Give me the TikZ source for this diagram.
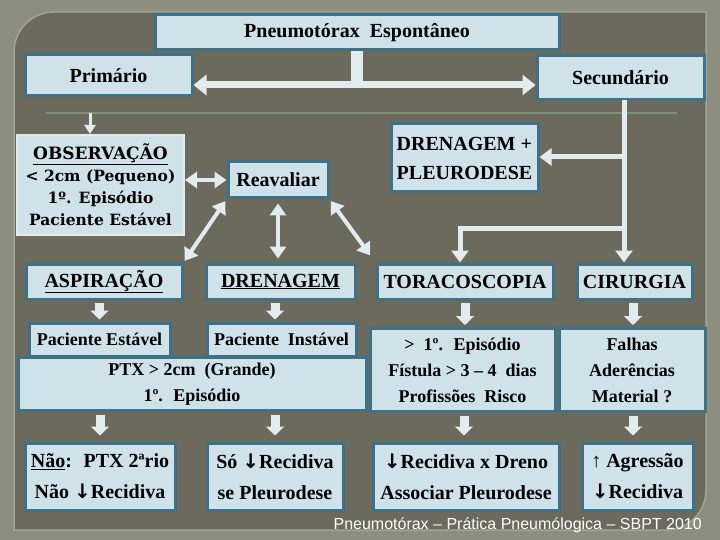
\documentclass[tikz,border=0pt]{standalone}
\usepackage{fontspec}
\setmainfont{Liberation Serif}
\newfontfamily\obsfont{DejaVu Serif}
\newfontfamily\rodapefont{Liberation Sans}
\newfontfamily\setafont{DejaVu Sans}
\newcommand\baixo{{\setafont\bfseries ↓}}
\usetikzlibrary{arrows.meta}

\definecolor{fundo}{HTML}{8C8E7F}
\definecolor{painel}{HTML}{6B6A5D}
\definecolor{bisel}{HTML}{A2A495}
\definecolor{caixafill}{HTML}{CFE2EA}
\definecolor{borda}{HTML}{3E7086}
\definecolor{setacor}{HTML}{E2ECEF}
\definecolor{verde}{HTML}{7E9170}

\begin{document}
\begin{tikzpicture}[x=1pt,y=-1pt,
  caixa/.style={draw=borda, fill=caixafill, line width=3pt, inner sep=0pt, align=center, font=\bfseries\fontsize{20}{31}\selectfont},
  menor/.style={font=\bfseries\fontsize{18}{26}\selectfont},
  seta/.style={draw=setacor, line width=9pt, -{Triangle[width=18pt,length=9pt]}},
  dupla/.style={draw=setacor, line width=4pt, {Triangle[width=16pt,length=12pt]}-{Triangle[width=16pt,length=12pt]}},
  linha/.style={draw=setacor, line width=5pt, -{Triangle[width=17pt,length=12pt]}}]
\useasboundingbox (0,0) rectangle (720,540);
\fill[fundo] (0,0) rectangle (720,540);
\path[fill=painel, draw=bisel, line width=1.5pt] (14,530) -- (14,52) .. controls (14,30) and (32,12) .. (54,12) -- (706,12) -- (706,490) .. controls (706,512) and (688,530) .. (666,530) -- cycle;
\draw[verde, line width=1.5pt] (46,113) -- (677,113);

% topo
\node[caixa, minimum width=404pt, minimum height=35pt] (titulo) at (357,32.5) {Pneumotórax \ Espontâneo};
\node[caixa, minimum width=167pt, minimum height=41pt] (prim) at (108.5,75.5) {Primário};
\node[caixa, minimum width=167pt, minimum height=44pt] (sec) at (620.5,78) {Secundário};

% primario
\node[caixa, draw=setacor, line width=2pt, minimum width=167pt, minimum height=100pt, font=\obsfont\bfseries\fontsize{15.5}{22}\selectfont] (obs) at (100.5,185) {{\fontsize{17}{22}\selectfont\underline{OBSERVAÇÃO}}\\ < 2cm (Pequeno)\\ 1º. Episódio\\ Paciente Estável};
\node[caixa, minimum width=100pt, minimum height=36pt] (reav) at (278,180) {Reavaliar};
\node[caixa, minimum width=156pt, minimum height=35pt] (asp) at (104,281.5) {\underline{ASPIRAÇÃO}};
\node[caixa, minimum width=149pt, minimum height=35pt] (dren) at (280.5,281.5) {\underline{DRENAGEM}};
\node[caixa, menor, minimum width=348pt, minimum height=53pt] (ptx) at (192,384) {PTX > 2cm \ (Grande)\\ 1º. \ Episódio};
\node[caixa, menor, minimum width=141pt, minimum height=33pt] (pe) at (99.5,339.5) {Paciente Estável};
\node[caixa, menor, minimum width=149pt, minimum height=33pt] (pi) at (281.5,339.5) {Paciente \ Instável};
\node[caixa, minimum width=150pt, minimum height=67pt] (nao) at (100,476.5) {\underline{Não}: \ PTX 2ªrio\\ Não \baixo Recidiva};
\node[caixa, minimum width=136pt, minimum height=67pt] (so) at (275,476.5) {Só \baixo Recidiva\\ se Pleurodese};

% secundario
\node[caixa, align=left, minimum width=147pt, minimum height=68pt, font=\bfseries\fontsize{20}{29}\selectfont] (dp) at (464.5,158) {DRENAGEM +\\ PLEURODESE};
\node[caixa, minimum width=176pt, minimum height=35pt] (tora) at (465,281.5) {TORACOSCOPIA};
\node[caixa, minimum width=115pt, minimum height=35pt] (cir) at (634.5,281.5) {CIRURGIA};
\node[caixa, menor, minimum width=185pt, minimum height=83pt] (epi) at (462.5,370) {> \ 1º. \ Episódio\\ Fístula > 3 – 4 \ dias\\ Profissões \ Risco};
\node[caixa, menor, minimum width=146pt, minimum height=83pt] (falhas) at (632,370) {Falhas\\ Aderências\\ Material ?};
\node[caixa, minimum width=186pt, minimum height=67pt] (rec) at (466,476.5) {\baixo Recidiva x Dreno\\ Associar Pleurodese};
\node[caixa, minimum width=111pt, minimum height=67pt] (agr) at (637.5,476.5) {↑ Agressão\\ \baixo Recidiva};

\node[anchor=east, text=white, font=\rodapefont\fontsize{16}{18}\selectfont, inner sep=0pt] (fonte) at (702,525) {Pneumotórax – Prática Pneumólogica – SBPT 2010};

% setas do topo
\coordinate (j) at (357,85);
\path[draw=setacor, line width=12pt] (titulo.south) -- ([yshift=3]j);
\path[draw=setacor, line width=7pt, -{Triangle[width=20pt,length=13pt]}] (j) -- (j -| prim.east);
\path[draw=setacor, line width=7pt, -{Triangle[width=20pt,length=13pt]}] (j) -- (j -| sec.west);

\coordinate (p1) at (90,113);
\path[draw=setacor, line width=3pt, -{Triangle[width=11pt,length=9pt]}] (p1) -- (p1 |- obs.north);

% reavaliar
\path[dupla] (obs.east |- reav) -- (reav.west);
\path[dupla, shorten <=2pt, shorten >=2pt] (reav.south west) -- (asp.north east);
\path[dupla, shorten <=4pt, shorten >=4pt] (reav.south) -- (reav.south |- dren.north);
\path[dupla, shorten <=2pt, shorten >=9pt] (reav.south east) -- (tora.north west);

% secundario
\coordinate (s0) at (624,100);
\coordinate (s1) at (624,157);
\coordinate (s2) at (624,229);
\path[linha] (s0) -- (s0 |- cir.north);
\path[linha] (s1) -- (dp.east |- s1);
\path[linha] (s2) -| ([xshift=-5]tora.north);

% setas entre linhas
\path[seta, shorten <=2pt, shorten >=2pt] (asp.south -| pe) -- (pe.north);
\path[seta, shorten <=2pt, shorten >=2pt] (dren.south -| 275,0) -- (pi.north -| 275,0);
\path[seta, shorten <=2pt, shorten >=2pt] (tora.south) -- (tora.south |- epi.north);
\path[seta, shorten <=2pt, shorten >=2pt] (cir.south -| 633,0) -- (falhas.north -| 633,0);
\path[seta, shorten <=3pt, shorten >=6pt] (ptx.south -| nao) -- (nao.north);
\path[seta, shorten <=3pt, shorten >=6pt] (ptx.south -| so) -- (so.north);
\path[seta, shorten <=3pt, shorten >=6pt] (epi.south -| 464,0) -- (rec.north -| 464,0);
\path[seta, shorten <=3pt, shorten >=6pt] (falhas.south -| 633,0) -- (agr.north -| 633,0);

\end{tikzpicture}
\end{document}
